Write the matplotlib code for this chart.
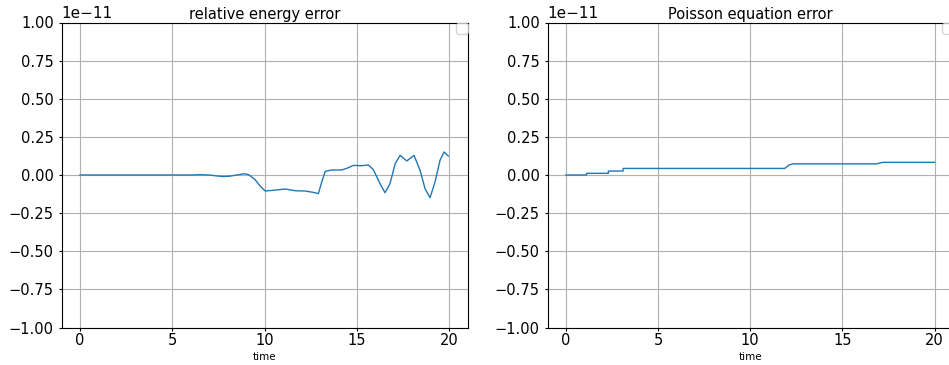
import matplotlib
matplotlib.use("Agg")
import matplotlib.pyplot as plt

# energy error (units of 1e-11)
t_energy = [0, 1, 2, 3, 4, 5, 6, 6.5, 7, 7.4, 7.75, 8.1, 8.5, 8.9, 9.13, 9.49,
            9.77, 10.04, 10.49, 11.12, 11.66, 12.2, 12.65, 12.92, 13.1, 13.29,
            13.65, 14.19, 14.46, 14.82, 15.27, 15.63, 15.9, 16.26, 16.53, 16.8,
            17.08, 17.35, 17.71, 18.1, 18.43, 18.7, 18.97, 19.24, 19.51, 19.73,
            19.96]
e_energy = [0, 0, 0, 0, 0, 0, 0, 0.002, 0, -0.006, -0.01, -0.008, 0.0, 0.008,
            0.003, -0.03, -0.074, -0.105, -0.10, -0.092, -0.103, -0.105, -0.114,
            -0.122, -0.046, 0.024, 0.033, 0.033, 0.044, 0.063, 0.061, 0.066,
            0.035, -0.057, -0.116, -0.057, 0.074, 0.129, 0.092, 0.129, 0.031,
            -0.09, -0.149, -0.046, 0.096, 0.151, 0.125]

# Poisson error (units of 1e-11)
t_poisson = [0, 1.12, 1.12, 2.3, 2.3, 3.1, 3.1, 11.87, 12.1, 12.3, 16.84, 17.2, 20.0]
e_poisson = [0, 0, 0.011, 0.011, 0.026, 0.026, 0.043, 0.043, 0.065, 0.073, 0.073, 0.083, 0.083]

scale = 1e-11

fig = plt.figure(figsize=(9.49, 3.65), dpi=100)
ax1 = fig.add_axes([61.5 / 949, 37.5 / 365, 406 / 949, 305 / 365])
ax2 = fig.add_axes([547.5 / 949, 37.5 / 365, 405.5 / 949, 305 / 365])

for ax, t, e, title in [(ax1, t_energy, e_energy, "relative energy error"),
                        (ax2, t_poisson, e_poisson, "Poisson equation error")]:
    ax.plot(t, [v * scale for v in e], color="C0", linewidth=1)
    ax.set_xlim(-1, 21)
    ax.set_ylim(-1e-11, 1e-11)
    ax.set_xticks([0, 5, 10, 15, 20])
    ax.set_title(title, fontsize=10.5, pad=1.5)
    ax.set_xlabel("time", fontsize=7.5, labelpad=2.5)
    ax.tick_params(labelsize=10.5)
    ax.tick_params(axis="x", length=2, pad=2)
    ax.tick_params(axis="y", length=2.5, pad=3)
    ax.yaxis.get_offset_text().set_fontsize(11)
    ax.grid(True)
    ax.legend(handles=[], loc="upper right", borderaxespad=0)

fig.savefig("out.png", dpi=100)
